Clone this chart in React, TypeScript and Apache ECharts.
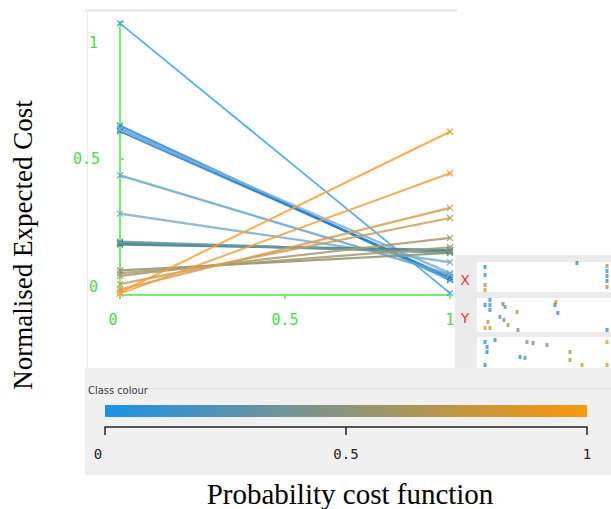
import React, { useEffect, useRef } from 'react';
import * as echarts from 'echarts';

// Cost curve: one line per threshold, from (PC=0, cost) to (PC=1, cost)
const classValues = [0, 0.05, 0.08, 0.1, 0.12, 0.2, 0.3, 0.35, 0.38, 0.4, 0.55, 0.6, 0.65, 0.75, 0.8, 0.9, 1];
const costAtZero = [0.995, 0.62, 0.61, 0.6, 0.605, 0.438, 0.298, 0.19, 0.185, 0.195, 0.09, 0.08, 0.07, 0.04, 0.02, 0.005, 0.01];
const costAtOne = [0.007, 0.055, 0.06, 0.065, 0.08, 0.075, 0.12, 0.16, 0.165, 0.155, 0.154, 0.175, 0.209, 0.282, 0.319, 0.446, 0.598];
const lineColors = [
  '#3aa0ee', '#2a8ad8', '#5aa2da', '#1f7cc8', '#7ab0dc', '#6aa4cc', '#80aecb',
  '#3e7a84', '#4a8590', '#6a9aa2', '#8c9478', '#a89868', '#a89a70', '#c8a060',
  '#d4a050', '#f0a040', '#f8a030',
];
const lineWidths = [1.8, 2.4, 2.4, 2.4, 2.4, 2.4, 2.4, 2.6, 2.4, 2.4, 2.2, 2.2, 2.2, 2.2, 2.2, 2, 2];

const plotTicks = ['0', '0.5', '1'];
const scaleTicks = ['0', '0.5', '1'];

// Attribute strip thumbnails (X / Y panels)
const stripX = [
  0.053, 0.053, 0.053, 0.053, 0.744, 0.97, 0.97, 0.97, 0.97, 0.97,
  0.053, 0.09, 0.09, 0.09, 0.188, 0.203, 0.293, 0.165, 0.195, 0.075, 0.053, 0.09, 0.226, 0.3, 0.586, 0.579, 0.6, 0.97,
  0.053, 0.068, 0.068, 0.128, 0.368, 0.414, 0.519, 0.316, 0.353, 0.692, 0.692, 0.97, 0.782, 0.97, 0.053,
];
const stripY = [
  0.935, 0.861, 0.769, 0.722, 0.972, 0.944, 0.898, 0.852, 0.806, 0.75,
  0.583, 0.63, 0.583, 0.537, 0.593, 0.565, 0.519, 0.472, 0.444, 0.426, 0.37, 0.37, 0.398, 0.352, 0.611, 0.583, 0.509, 0.352,
  0.241, 0.194, 0.148, 0.259, 0.241, 0.231, 0.213, 0.102, 0.093, 0.148, 0.074, 0.241, 0.028, 0.028, 0.028,
];
const stripClass = [
  0.05, 0.1, 0.7, 0.95, 0.05, 0.6, 0.1, 0.3, 0.05, 0.65,
  0.05, 0.1, 0.05, 0.1, 0.35, 0.4, 0.75, 0.3, 0.35, 0.7, 0.95, 0.8, 0.65, 0.45, 0.9, 0.1, 0.05, 0.1,
  0.05, 0.1, 0.05, 0.1, 0.4, 0.35, 0.45, 0.1, 0.3, 0.7, 0.75, 0.95, 0.95, 0.9, 0.05,
];

const BLUE = [30, 144, 232];
const ORANGE = [250, 152, 10];
function classColour(v: number): string {
  const c = BLUE.map((b, i) => Math.round(b + (ORANGE[i] - b) * v));
  return `rgb(${c[0]},${c[1]},${c[2]})`;
}

const CROSS = 'path://M0,0L10,10M10,0L0,10';
const GREEN_LINE = '#72ee72';
const GREEN_TEXT = '#44dd44';
const SERIF = '"Liberation Serif", "Times New Roman", serif';
const MONO = '"DejaVu Sans Mono", monospace';

export default function App() {
  const ref = useRef<HTMLDivElement>(null);

  useEffect(() => {
    if (!ref.current) return;
    const chart = echarts.init(ref.current, undefined, { renderer: 'svg' });

    const costSeries = classValues.map((cv, i) => ({
      type: 'line',
      name: `t${cv}`,
      xAxisIndex: 0,
      yAxisIndex: 0,
      data: [
        [0, costAtZero[i]],
        [1, costAtOne[i]],
      ],
      symbol: CROSS,
      symbolSize: 6,
      silent: true,
      lineStyle: { color: lineColors[i], width: lineWidths[i], opacity: 0.85 },
      itemStyle: { color: 'rgba(0,0,0,0)', borderColor: lineColors[i], borderWidth: 1.2 },
      z: 3,
    }));

    const option: any = {
      animation: false,
      backgroundColor: '#ffffff',
      grid: [
        { left: 120, top: 22, width: 330, height: 273 },
        { left: 478, top: 260, width: 133, height: 108 },
        { left: 105, top: 426, width: 482, height: 1 },
      ],
      xAxis: [
        {
          gridIndex: 0,
          type: 'value',
          min: 0,
          max: 1,
          interval: 0.5,
          axisLine: { show: true, onZero: false, lineStyle: { color: GREEN_LINE, width: 2 } },
          axisTick: { show: true, length: 4, lineStyle: { color: GREEN_LINE, width: 2 } },
          splitLine: { show: false },
          axisLabel: {
            margin: 17,
            color: GREEN_TEXT,
            fontFamily: MONO,
            fontSize: 15,
            formatter: (v: number) => {
              const idx = Math.round(v * 2);
              return idx === 0 ? `{first|${plotTicks[idx]}}` : `{base|${plotTicks[idx]}}`;
            },
            rich: {
              first: { color: GREEN_TEXT, fontFamily: MONO, fontSize: 15, padding: [0, 14, 0, 0] },
              base: { color: GREEN_TEXT, fontFamily: MONO, fontSize: 15 },
            },
          },
        },
        { gridIndex: 1, type: 'value', min: 0, max: 1, show: false },
        {
          gridIndex: 2,
          type: 'value',
          min: 0,
          max: 1,
          interval: 0.5,
          axisLine: { show: true, onZero: false, lineStyle: { color: '#222222', width: 1.5 } },
          axisTick: { show: true, length: 8, lineStyle: { color: '#222222', width: 1.5 } },
          splitLine: { show: false },
          axisLabel: {
            margin: 20,
            color: '#222222',
            fontFamily: MONO,
            fontSize: 14,
            formatter: (v: number) => {
              const idx = Math.round(v * 2);
              return idx === 0 ? `{first|${scaleTicks[idx]}}` : `{base|${scaleTicks[idx]}}`;
            },
            rich: {
              first: { color: '#222222', fontFamily: MONO, fontSize: 14, padding: [0, 14, 0, 0] },
              base: { color: '#222222', fontFamily: MONO, fontSize: 14 },
            },
          },
        },
      ],
      yAxis: [
        {
          gridIndex: 0,
          type: 'value',
          min: 0,
          max: 1,
          interval: 0.5,
          axisLine: { show: true, onZero: false, lineStyle: { color: GREEN_LINE, width: 2 } },
          axisTick: { show: true, length: 4, inside: true, lineStyle: { color: GREEN_LINE, width: 2 } },
          splitLine: { show: false },
          axisLabel: {
            margin: 20,
            color: GREEN_TEXT,
            fontFamily: MONO,
            fontSize: 15,
            formatter: (v: number) => {
              const idx = Math.round(v * 2);
              const key = idx === 2 ? 'top' : idx === 0 ? 'bottom' : 'base';
              return `{${key}|${plotTicks[idx]}}`;
            },
            rich: {
              top: { color: GREEN_TEXT, fontFamily: MONO, fontSize: 15, padding: [42, 2, 0, 0] },
              bottom: { color: GREEN_TEXT, fontFamily: MONO, fontSize: 15, padding: [0, 2, 16, 0] },
              base: { color: GREEN_TEXT, fontFamily: MONO, fontSize: 15 },
            },
          },
        },
        { gridIndex: 1, type: 'value', min: 0, max: 1, show: false },
        { gridIndex: 2, type: 'value', min: 0, max: 1, show: false },
      ],
      graphic: [
        // plot panel border
        { type: 'line', z: 0, shape: { x1: 85, y1: 10.5, x2: 457, y2: 10.5 }, style: { stroke: '#e6e6e6', lineWidth: 2 } },
        { type: 'line', z: 0, shape: { x1: 87.5, y1: 10, x2: 87.5, y2: 368 }, style: { stroke: '#ececec', lineWidth: 1 } },
        // attribute strip panel
        { type: 'rect', z: 0, shape: { x: 455, y: 255, width: 156, height: 113 }, style: { fill: '#ebebeb' } },
        { type: 'rect', z: 0, shape: { x: 477, y: 262, width: 134, height: 30 }, style: { fill: '#ffffff' } },
        { type: 'rect', z: 0, shape: { x: 477, y: 298, width: 134, height: 34 }, style: { fill: '#ffffff' } },
        { type: 'rect', z: 0, shape: { x: 477, y: 337, width: 134, height: 31 }, style: { fill: '#ffffff' } },
        { type: 'text', z: 1, x: 465, y: 280, style: { text: 'X', fill: '#e83a3a', fontSize: 14, fontFamily: '"DejaVu Sans", sans-serif', align: 'center', verticalAlign: 'middle' } },
        { type: 'text', z: 1, x: 465, y: 318, style: { text: 'Y', fill: '#e83a3a', fontSize: 14, fontFamily: '"DejaVu Sans", sans-serif', align: 'center', verticalAlign: 'middle' } },
        // class colour panel
        { type: 'rect', z: 0, shape: { x: 85, y: 368, width: 526, height: 107 }, style: { fill: '#f0f0f0' } },
        { type: 'line', z: 1, shape: { x1: 148, y1: 388.5, x2: 611, y2: 388.5 }, style: { stroke: '#d6dde5', lineWidth: 1 } },
        {
          type: 'text',
          z: 1,
          x: 88,
          y: 390,
          style: { text: 'Class colour', fill: '#3a3a3a', fontSize: 11, fontFamily: '"DejaVu Sans Condensed", "Liberation Sans Narrow", sans-serif', align: 'left', verticalAlign: 'middle' },
        },
        {
          type: 'rect',
          z: 1,
          shape: { x: 105, y: 405, width: 482, height: 12 },
          style: {
            fill: new echarts.graphic.LinearGradient(0, 0, 1, 0, [
              { offset: 0, color: classColour(0) },
              { offset: 1, color: classColour(1) },
            ]),
          },
        },
        // axis titles
        {
          type: 'text',
          z: 1,
          x: 23,
          y: 245,
          rotation: Math.PI / 2,
          style: { text: 'Normalised Expected Cost', fill: '#000000', fontSize: 27, fontFamily: SERIF, align: 'center', verticalAlign: 'middle' },
        },
        {
          type: 'text',
          z: 1,
          x: 350,
          y: 494,
          style: { text: 'Probability cost function', fill: '#000000', fontSize: 29, fontFamily: SERIF, align: 'center', verticalAlign: 'middle' },
        },
      ],
      series: [
        ...costSeries,
        {
          type: 'scatter',
          xAxisIndex: 1,
          yAxisIndex: 1,
          data: stripX.map((x, i) => [x, stripY[i]]),
          symbol: 'rect',
          symbolSize: [3, 4],
          silent: true,
          itemStyle: { color: (p: any) => classColour(stripClass[p.dataIndex]) },
          z: 3,
        },
      ],
    };

    chart.setOption(option);
    return () => chart.dispose();
  }, []);

  return <div ref={ref} style={{ position: 'absolute', left: 0, top: 0, width: 611, height: 509 }} />;
}
